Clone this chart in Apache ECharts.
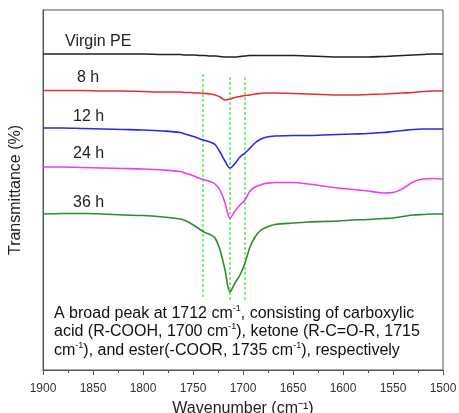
<!DOCTYPE html>
<html>
<head>
<meta charset="utf-8">
<script src="https://cdn.jsdelivr.net/npm/echarts@6/dist/echarts.min.js"></script>
<style>
  html, body { margin: 0; padding: 0; background: #fff; }
  #chart { width: 459px; height: 413px; }
</style>
</head>
<body>
<div id="chart"></div>
<script>
// wavenumber grid (cm-1) shared by all spectra, denser around the carbonyl band
const wavenumbers = [1900, 1880, 1860, 1840, 1820, 1800, 1780,
  1763, 1758, 1753, 1748, 1743, 1738, 1733, 1728, 1723, 1718,
  1713, 1708, 1703, 1698, 1693, 1688, 1683, 1678, 1673, 1668,
  1650, 1635, 1620, 1605, 1590, 1575, 1560, 1550, 1540, 1530, 1520, 1510, 1500];

// transmittance, arbitrary offset units (stacked spectra)
const virginPE = [316, 316, 316, 316, 316, 316, 315.5,
  315.5, 315, 315, 315, 314.5, 314.5, 314, 314, 313.5, 313,
  313, 313, 313.5, 314, 314.5, 314.5, 314.5, 314.5, 314.5, 314.5,
  314.5, 314, 313.5, 313, 313, 313, 313.5, 314, 314.5, 315, 315.5, 316, 316];
const h8 = [279.5, 279.5, 279.5, 279, 279, 278.5, 278,
  278, 277.5, 277.5, 277, 277, 276.5, 276, 275, 273, 270,
  271, 272.5, 273.5, 274.5, 275, 276, 276.5, 277, 277, 277,
  276.5, 276, 275.5, 275, 275, 275.5, 276, 276.5, 277, 277.5, 278.5, 279, 279];
const h12 = [242, 242, 241.5, 241, 240.5, 240, 239,
  237.5, 236, 234.5, 233, 231, 229.5, 228, 225.5, 218, 209,
  202, 206.5, 213, 217, 222, 227, 230.5, 232.5, 233.5, 234,
  234.5, 234.5, 235, 235.5, 236, 236.5, 237.5, 238.5, 239.5, 240.5, 241, 241, 241];
const h24 = [203, 203, 202.5, 202, 201.5, 201, 200,
  198.5, 197, 195.5, 193.5, 191.5, 190, 188.5, 186, 180, 167,
  152, 159, 165, 170, 179, 183, 185, 186.5, 187, 187.5,
  187.5, 186, 184, 182, 180.5, 179, 177, 177.5, 181.5, 188, 191, 191.5, 191];
const h36 = [156, 156.5, 156.5, 156, 155, 154.5, 153,
  151, 149.5, 147, 144, 140.5, 137.5, 135.5, 132, 120, 100,
  78, 87, 95, 107, 123, 133, 139, 142, 144, 145.5,
  147, 148, 148.5, 149, 150, 150.5, 151.5, 152, 153.5, 155, 155.5, 156, 156];

// green guide lines: [wavenumber, top, bottom]
const guides = [[1740, 296, 72], [1713, 293, 68], [1698, 293, 70]];

const xTicks = [1900, 1850, 1800, 1750, 1700, 1650, 1600, 1550, 1500];

const pair = (ys) => wavenumbers.map((w, i) => [w, ys[i]]);

const chart = echarts.init(document.getElementById("chart"));

const lineSeries = (name, ys, color) => ({
  name: name,
  type: "line",
  data: pair(ys),
  smooth: 0.35,
  showSymbol: false,
  lineStyle: { color: color, width: 1.6 },
  z: 3,
});

const guideSeries = guides.map((g) => ({
  type: "line",
  data: [[g[0], g[1]], [g[0], g[2]]],
  showSymbol: false,
  lineStyle: { color: "#33dd33", width: 1.2, type: [3, 2] },
  z: 2,
}));

const font = "Liberation Sans, Arial, sans-serif";

const option = {
  backgroundColor: "#ffffff",
  animation: false,
  grid: {
    left: 43,
    right: 16,
    top: 10,
    bottom: 43,
    outerBoundsMode: "none",
    containLabel: false,
    show: true,
    borderColor: "#555",
    borderWidth: 1,
  },
  xAxis: {
    type: "value",
    min: 1500,
    max: 1900,
    interval: 50,
    inverse: true,
    name: "Wavenumber (cm\u207B\u00B9)",
    nameLocation: "middle",
    nameGap: 31,
    nameTextStyle: { color: "#222", fontSize: 16, fontFamily: font },
    axisLine: { lineStyle: { color: "#555" } },
    axisTick: { show: true, length: 5, lineStyle: { color: "#555" } },
    minorTick: { show: true, splitNumber: 2, length: 3, lineStyle: { color: "#555" } },
    axisLabel: {
      color: "#333",
      fontSize: 12,
      fontFamily: font,
      margin: 13,
      formatter: (v) => (xTicks.includes(v) ? String(v) : ""),
    },
    splitLine: { show: false },
  },
  yAxis: {
    type: "value",
    min: 0,
    max: 360,
    name: "Transmittance (%)",
    nameLocation: "middle",
    nameGap: 19,
    nameTextStyle: { color: "#222", fontSize: 16, fontFamily: font },
    axisLine: { show: true, lineStyle: { color: "#555" } },
    axisTick: { show: false },
    axisLabel: { show: false },
    splitLine: { show: false },
  },
  graphic: [
    { type: "text", left: 65, top: 34, style: { text: "Virgin PE", font: "16px " + font, fill: "#222" } },
    { type: "text", left: 77, top: 70, style: { text: "8 h", font: "16px " + font, fill: "#222" } },
    { type: "text", left: 73, top: 109, style: { text: "12 h", font: "16px " + font, fill: "#222" } },
    { type: "text", left: 73, top: 146, style: { text: "24 h", font: "16px " + font, fill: "#222" } },
    { type: "text", left: 73, top: 195, style: { text: "36 h", font: "16px " + font, fill: "#222" } },
    {
      type: "text",
      left: 54,
      top: 304,
      style: {
        text:
          "A broad peak at 1712 cm{s|-1}, consisting of carboxylic\n" +
          "acid (R-COOH, 1700 cm{s|-1}), ketone (R-C=O-R, 1715\n" +
          "cm{s|-1}), and ester(-COOR, 1735 cm{s|-1}), respectively",
        font: "16px " + font,
        fill: "#111",
        lineHeight: 18.5,
        rich: {
          s: { fontSize: 9, fontFamily: font, fill: "#111", verticalAlign: "top", lineHeight: 18.5 },
        },
      },
    },
  ],
  series: [
    lineSeries("Virgin PE", virginPE, "#222222"),
    lineSeries("8 h", h8, "#e83030"),
    lineSeries("12 h", h12, "#2a2ae6"),
    lineSeries("24 h", h24, "#f03cf0"),
    lineSeries("36 h", h36, "#2e8a2e"),
    ...guideSeries,
  ],
};

chart.setOption(option);
</script>
</body>
</html>
